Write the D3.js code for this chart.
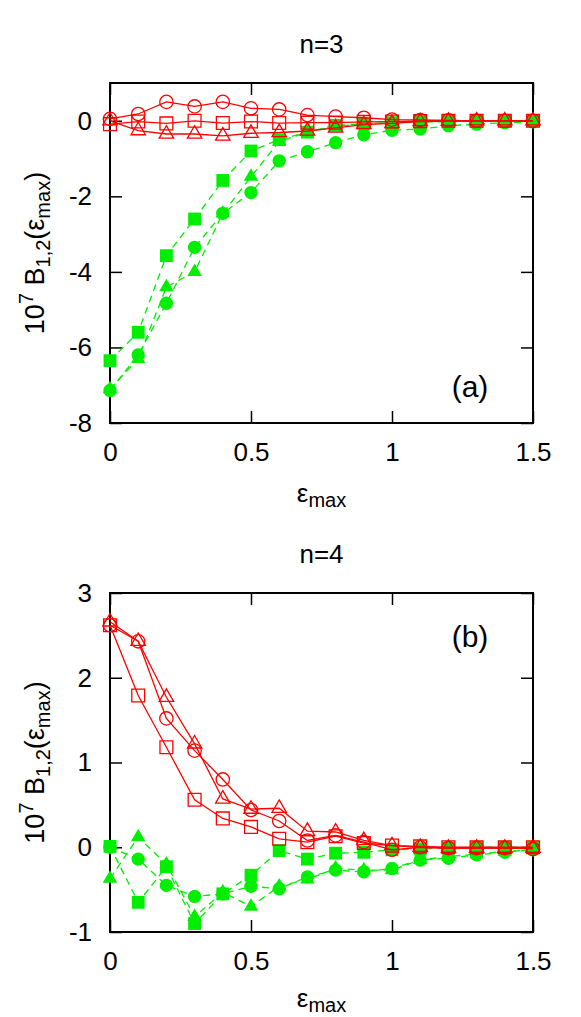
<!DOCTYPE html>
<html>
<head>
<meta charset="utf-8">
<script src="https://cdn.jsdelivr.net/npm/d3@7"></script>
<style>
  body { margin: 0; background: #fff; }
  svg text { font-family: 'Liberation Sans', Arial, sans-serif; fill: #000; }
</style>
</head>
<body>
<svg id="chart" width="581" height="1017"></svg>
<script>
const epsMax = [0, 0.1, 0.2, 0.3, 0.4, 0.5, 0.6, 0.7, 0.8, 0.9, 1.0, 1.1, 1.2, 1.3, 1.4, 1.5];
const xTicks = [0, 0.5, 1, 1.5];
const yTicksA = [-8, -6, -4, -2, 0];
const yTicksB = [-1, 0, 1, 2, 3];

// panel (a), n=3
const aRedCircle = [0.05, 0.18, 0.5, 0.38, 0.5, 0.33, 0.3, 0.15, 0.11, 0.08, 0.03, 0.02, 0.01, 0, 0, 0];
const aRedSquare = [-0.09, -0.02, -0.07, 0, -0.06, -0.02, -0.06, -0.05, -0.05, -0.03, -0.02, -0.01, 0, 0, 0, 0];
const aRedTriangle = [0, -0.26, -0.35, -0.35, -0.4, -0.33, -0.31, -0.27, -0.19, -0.1, -0.07, -0.02, -0.01, 0, 0, 0];
const aGreenSquare = [-6.35, -5.6, -3.57, -2.6, -1.58, -0.8, -0.5, -0.3, -0.12, -0.08, -0.05, -0.03, -0.02, -0.01, 0, 0];
const aGreenTriangle = [-7.1, -6.3, -4.4, -4.0, -2.45, -1.48, -0.55, -0.3, -0.15, -0.08, -0.05, -0.03, -0.02, -0.01, 0, 0];
const aGreenCircle = [-7.14, -6.2, -4.83, -3.35, -2.45, -1.9, -1.06, -0.82, -0.58, -0.37, -0.25, -0.22, -0.13, -0.09, -0.05, -0.03];

// panel (b), n=4
const bRedCircle = [2.62, 2.43, 1.52, 1.14, 0.8, 0.44, 0.31, 0.08, 0.14, 0.06, -0.03, 0, -0.01, -0.01, -0.01, -0.02];
const bRedTriangle = [2.66, 2.43, 1.77, 1.22, 0.57, 0.45, 0.46, 0.19, 0.18, 0.08, 0.02, 0, -0.01, -0.01, -0.01, -0.01];
const bRedSquare = [2.62, 1.79, 1.18, 0.56, 0.34, 0.24, 0.1, 0.06, 0.13, 0.05, 0.02, 0.01, 0, 0, 0, 0];
const bGreenSquare = [0.01, -0.65, -0.23, -0.9, -0.55, -0.33, -0.04, -0.14, -0.07, -0.06, -0.03, -0.02, -0.01, 0, 0, 0];
const bGreenTriangle = [-0.37, 0.12, -0.2, -0.82, -0.53, -0.7, -0.46, -0.38, -0.25, -0.27, -0.27, -0.15, -0.11, -0.08, -0.05, -0.03];
const bGreenCircle = [0, -0.14, -0.45, -0.58, -0.55, -0.46, -0.49, -0.35, -0.27, -0.29, -0.25, -0.15, -0.13, -0.09, -0.06, -0.03];

const RED = '#ff0000';
const GREEN = '#00ee00';
const FONT = 26;
const SUB = 20;

const svg = d3.select('#chart');
const x = d3.scaleLinear().domain([0, 1.5]).range([110, 533]);

const panels = [
  {
    title: 'n=3', label: '(a)', top: 83, bottom: 423, domain: [-8, 1], yTicks: yTicksA,
    labelPos: [470, 397], xLabelY: 502,
    series: [
      { values: aGreenSquare, color: GREEN, shape: 'square', filled: true },
      { values: aGreenTriangle, color: GREEN, shape: 'triangle', filled: true },
      { values: aGreenCircle, color: GREEN, shape: 'circle', filled: true },
      { values: aRedCircle, color: RED, shape: 'circle', filled: false },
      { values: aRedSquare, color: RED, shape: 'square', filled: false },
      { values: aRedTriangle, color: RED, shape: 'triangle', filled: false },
    ],
  },
  {
    title: 'n=4', label: '(b)', top: 593, bottom: 932, domain: [-1, 3], yTicks: yTicksB,
    labelPos: [470, 647], xLabelY: 1007,
    series: [
      { values: bGreenSquare, color: GREEN, shape: 'square', filled: true },
      { values: bGreenTriangle, color: GREEN, shape: 'triangle', filled: true },
      { values: bGreenCircle, color: GREEN, shape: 'circle', filled: true },
      { values: bRedCircle, color: RED, shape: 'circle', filled: false },
      { values: bRedTriangle, color: RED, shape: 'triangle', filled: false },
      { values: bRedSquare, color: RED, shape: 'square', filled: false },
    ],
  },
];

const symbols = {
  circle: d3.symbol().type(d3.symbolCircle).size(140),
  square: d3.symbol().type(d3.symbolSquare).size(165),
  triangle: d3.symbol().type(d3.symbolTriangle).size(90),
};

panels.forEach((p) => {
  const y = d3.scaleLinear().domain(p.domain).range([p.bottom, p.top]);
  const g = svg.append('g');
  const fmt = (d) => String(d);

  // ticks (inward, mirrored on all sides)
  const axB = g.append('g').attr('transform', `translate(0,${p.bottom})`)
    .call(d3.axisBottom(x).tickValues(xTicks).tickSize(-12).tickPadding(20).tickFormat(fmt));
  const axT = g.append('g').attr('transform', `translate(0,${p.top})`)
    .call(d3.axisTop(x).tickValues(xTicks).tickSize(-12).tickFormat(''));
  const axL = g.append('g').attr('transform', `translate(${x(0)},0)`)
    .call(d3.axisLeft(y).tickValues(p.yTicks).tickSize(-12).tickPadding(18).tickFormat(fmt));
  const axR = g.append('g').attr('transform', `translate(${x(1.5)},0)`)
    .call(d3.axisRight(y).tickValues(p.yTicks).tickSize(-12).tickFormat(''));
  [axB, axT, axL, axR].forEach((ax) => {
    ax.select('.domain').remove();
    ax.selectAll('line').attr('stroke', '#000').attr('stroke-width', 1.5);
    ax.selectAll('text').attr('font-size', FONT).attr('font-family', 'Liberation Sans, Arial, sans-serif');
  });

  g.append('rect')
    .attr('x', x(0)).attr('y', p.top)
    .attr('width', x(1.5) - x(0)).attr('height', p.bottom - p.top)
    .attr('fill', 'none').attr('stroke', '#000').attr('stroke-width', 2);

  // lines then markers
  p.series.forEach((s) => {
    const pts = epsMax.map((e, i) => [e, s.values[i]]);
    const line = d3.line().x((d) => x(d[0])).y((d) => y(d[1]));
    g.append('path')
      .attr('d', line(pts))
      .attr('fill', 'none')
      .attr('stroke', s.color)
      .attr('stroke-width', 1.3)
      .attr('stroke-dasharray', s.filled ? '7,5' : null);
    g.append('g').selectAll('path')
      .data(pts)
      .join('path')
      .attr('transform', (d) => `translate(${x(d[0])},${y(d[1])})`)
      .attr('d', symbols[s.shape]())
      .attr('fill', s.filled ? s.color : 'none')
      .attr('stroke', s.filled ? 'none' : s.color)
      .attr('stroke-width', 1.3);
  });

  // title
  g.append('text')
    .attr('x', (x(0) + x(1.5)) / 2).attr('y', p.top - 30)
    .attr('text-anchor', 'middle').attr('font-size', FONT)
    .text(p.title);

  // panel label
  g.append('text')
    .attr('x', p.labelPos[0]).attr('y', p.labelPos[1])
    .attr('text-anchor', 'middle').attr('font-size', 30)
    .text(p.label);

  // x label
  const xl = g.append('text')
    .attr('x', (x(0) + x(1.5)) / 2).attr('y', p.xLabelY)
    .attr('text-anchor', 'middle').attr('font-size', FONT);
  xl.append('tspan').text('ε');
  xl.append('tspan').attr('font-size', SUB).attr('dy', 5).text('max');

  // y label
  const cy = (p.top + p.bottom) / 2;
  const yl = g.append('text')
    .attr('transform', `translate(44,${cy}) rotate(-90)`)
    .attr('text-anchor', 'middle').attr('font-size', 27);
  yl.append('tspan').text('10');
  yl.append('tspan').attr('font-size', SUB).attr('dy', -11).text('7');
  yl.append('tspan').attr('dy', 11).text(' B');
  yl.append('tspan').attr('font-size', SUB).attr('dy', 6).text('1,2');
  yl.append('tspan').attr('dy', -6).text('(ε');
  yl.append('tspan').attr('font-size', SUB).attr('dy', 6).text('max');
  yl.append('tspan').attr('dy', -6).text(')');
});
</script>
</body>
</html>
